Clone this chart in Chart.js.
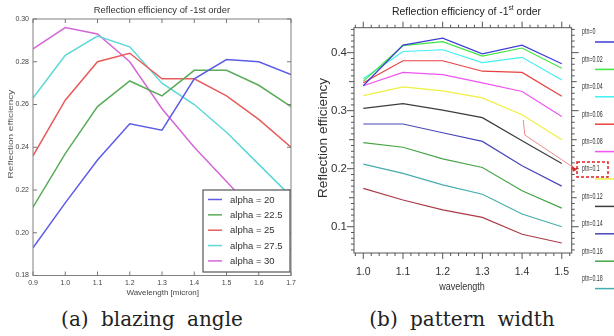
<!DOCTYPE html>
<html><head><meta charset="utf-8">
<script src="https://cdn.jsdelivr.net/npm/chart.js@4.4.0/dist/chart.umd.min.js"></script>
<style>
html,body{margin:0;padding:0;background:#fff;width:614px;height:336px;overflow:hidden;position:relative}
#ca{position:absolute;left:0;top:0}
#cb{position:absolute;left:300px;top:0}
.cap{position:absolute;font-family:'DejaVu Serif',serif;font-size:20px;line-height:20px;color:#222;word-spacing:6px;white-space:nowrap;text-align:center;width:260px}
</style></head><body>
<canvas id="ca" width="300" height="300"></canvas>
<canvas id="cb" width="314" height="300"></canvas>
<div class="cap" style="left:22px;top:309px">(a) blazing angle</div>
<div class="cap" style="left:332px;top:309px">(b) pattern width</div>
<script>
// ---------- Chart (a) data ----------
const wavelengthA = [0.9, 1.0, 1.1, 1.2, 1.3, 1.4, 1.5, 1.6, 1.7];
const alpha20   = [0.193, 0.214, 0.234, 0.251, 0.248, 0.272, 0.281, 0.280, 0.274];
const alpha22_5 = [0.212, 0.237, 0.259, 0.271, 0.264, 0.276, 0.276, 0.269, 0.259];
const alpha25   = [0.236, 0.262, 0.280, 0.284, 0.272, 0.272, 0.264, 0.253, 0.240];
const alpha27_5 = [0.263, 0.283, 0.292, 0.287, 0.270, 0.260, 0.247, 0.232, 0.217];
const alpha30   = [0.286, 0.296, 0.293, 0.280, 0.258, 0.240, 0.224, 0.208, 0.192];
const alphaLabels = ['alpha = 20', 'alpha = 22.5', 'alpha = 25', 'alpha = 27.5', 'alpha = 30'];
const xTicksA = [0.9, 1.0, 1.1, 1.2, 1.3, 1.4, 1.5, 1.6, 1.7];
const yTicksA = [0.18, 0.20, 0.22, 0.24, 0.26, 0.28, 0.30];

// ---------- Chart (b) data ----------
const wavelengthB = [1.0, 1.1, 1.2, 1.3, 1.4, 1.5];
const ptn0    = [0.343, 0.413, 0.425, 0.398, 0.413, 0.381];
const ptn0_02 = [0.351, 0.412, 0.419, 0.394, 0.408, 0.373];
const ptn0_04 = [0.355, 0.402, 0.405, 0.383, 0.392, 0.353];
const ptn0_06 = [0.348, 0.386, 0.386, 0.368, 0.366, 0.325];
const ptn0_08 = [0.343, 0.366, 0.362, 0.348, 0.333, 0.290];
const ptn0_1  = [0.326, 0.341, 0.334, 0.322, 0.293, 0.250];
const ptn0_12 = [0.304, 0.312, 0.301, 0.288, 0.248, 0.209];
const ptn0_14 = [0.277, 0.277, 0.262, 0.247, 0.205, 0.170];
const ptn0_16 = [0.245, 0.237, 0.217, 0.202, 0.162, 0.132];
const ptn0_18 = [0.208, 0.192, 0.172, 0.156, 0.122, 0.100];
const ptn0_2  = [0.166, 0.146, 0.129, 0.116, 0.087, 0.072];
const ptnLabels = ['ptn=0', 'ptn=0.02', 'ptn=0.04', 'ptn=0.06', 'ptn=0.08', 'ptn=0.1', 'ptn=0.12', 'ptn=0.14', 'ptn=0.16', 'ptn=0.18', 'ptn=0.2'];
const xTicksB = [1.0, 1.1, 1.2, 1.3, 1.4, 1.5];
const yTicksB = [0.1, 0.2, 0.3, 0.4];
const highlightLabel = 'ptn=0.1';
const calloutPath = [[1.403, 0.284], [1.407, 0.258], [1.538, 0.198]];

const colorsA = ['#5c5ce8', '#5aac5a', '#e85c5c', '#5cd8d8', '#d466d8'];
const colorsB = ['#3c3cd4', '#40e640', '#40f0f0', '#e84040', '#f054f0', '#f0f040', '#3c3c3c', '#4848b8', '#48a448', '#48acac', '#aa3c48'];

const pts = (xs, ys) => xs.map((x, i) => ({x: x, y: ys[i]}));

function txt(ctx, s, x, y, o) {
  ctx.save();
  ctx.translate(x, y);
  if (o.rot) ctx.rotate(o.rot);
  ctx.scale(o.sx || 1, o.sy || 1);
  ctx.font = o.font;
  ctx.fillStyle = o.color || '#333';
  ctx.textAlign = o.align || 'center';
  ctx.textBaseline = o.baseline || 'middle';
  ctx.fillText(s, 0, 0);
  ctx.restore();
}
function seg(ctx, x1, y1, x2, y2) { ctx.beginPath(); ctx.moveTo(x1, y1); ctx.lineTo(x2, y2); ctx.stroke(); }

// ---------- Chart (a) ----------
const seriesA = [alpha20, alpha22_5, alpha25, alpha27_5, alpha30];
const decoA = {
  id: 'decoA',
  afterDraw(chart) {
    const ctx = chart.ctx, ca = chart.chartArea, xs = chart.scales.x, ys = chart.scales.y;
    ctx.save();
    ctx.strokeStyle = '#808080'; ctx.lineWidth = 1;
    ctx.strokeRect(ca.left, ca.top, ca.right - ca.left, ca.bottom - ca.top);
    ctx.strokeStyle = '#777';
    xTicksA.forEach(v => { const p = xs.getPixelForValue(v); seg(ctx, p, ca.bottom, p, ca.bottom - 4); seg(ctx, p, ca.top, p, ca.top + 4); });
    yTicksA.forEach(v => { const p = ys.getPixelForValue(v); seg(ctx, ca.left, p, ca.left + 4, p); seg(ctx, ca.right, p, ca.right - 4, p); });
    // titles
    txt(ctx, 'Reflection efficiency of -1st order', 162, 10, {font: '9.4px "Liberation Sans"', color: '#333'});
    txt(ctx, 'Wavelength [micron]', 162.7, 293, {font: '8px "Liberation Sans"', color: '#444'});
    txt(ctx, 'Reflection efficiency', 10.5, 134, {font: '10px "Liberation Sans"', color: '#555', rot: -Math.PI / 2, sy: 0.8});
    // legend
    const lx = 203, ly = 190, lw = 87, lh = 82;
    ctx.fillStyle = '#fff'; ctx.fillRect(lx, ly, lw, lh);
    ctx.strokeStyle = '#555'; ctx.lineWidth = 1.2; ctx.strokeRect(lx, ly, lw, lh);
    chart.data.datasets.forEach((d, i) => {
      const y = 199.5 + 15.35 * i;
      ctx.strokeStyle = d.borderColor; ctx.lineWidth = 1.5;
      seg(ctx, 208, y, 222, y);
      txt(ctx, d.label, 230, y + 0.5, {font: '9.5px "Liberation Sans"', color: '#333', align: 'left'});
    });
    ctx.restore();
  }
};
new Chart(document.getElementById('ca'), {
  type: 'line',
  data: {
    datasets: seriesA.map((s, i) => ({
      label: alphaLabels[i], data: pts(wavelengthA, s), borderColor: colorsA[i],
      borderWidth: 1.5, pointRadius: 0, tension: 0, fill: false
    }))
  },
  options: {
    responsive: false, animation: false,
    layout: {padding: {left: 0, top: 19, right: 9, bottom: 0}},
    plugins: {legend: {display: false}, tooltip: {enabled: false}, title: {display: false}},
    scales: {
      x: {
        type: 'linear', min: 0.9, max: 1.7,
        afterBuildTicks: s => { s.ticks = xTicksA.map(v => ({value: v})); },
        afterFit: s => { s.height = 24.5; },
        grid: {display: false, drawTicks: false}, border: {display: false},
        ticks: {autoSkip: false, maxRotation: 0, padding: 3, color: '#444', font: {family: 'Liberation Sans', size: 7}, callback: v => v.toFixed(1)}
      },
      y: {
        type: 'linear', min: 0.18, max: 0.30,
        afterBuildTicks: s => { s.ticks = yTicksA.map(v => ({value: v})); },
        afterFit: s => { s.width = 33; },
        grid: {display: false, drawTicks: false}, border: {display: false},
        ticks: {autoSkip: false, padding: 4, color: '#444', font: {family: 'Liberation Sans', size: 7}, callback: v => v.toFixed(2)}
      }
    }
  },
  plugins: [decoA]
});

// ---------- Chart (b) ----------
const seriesB = [ptn0, ptn0_02, ptn0_04, ptn0_06, ptn0_08, ptn0_1, ptn0_12, ptn0_14, ptn0_16, ptn0_18, ptn0_2];
const decoB = {
  id: 'decoB',
  afterDraw(chart) {
    const ctx = chart.ctx, ca = chart.chartArea, xs = chart.scales.x, ys = chart.scales.y;
    ctx.save();
    ctx.strokeStyle = '#555'; ctx.lineWidth = 1;
    ctx.strokeRect(ca.left, ca.top, ca.right - ca.left, ca.bottom - ca.top);
    for (let k = Math.ceil(ys.min * 100); k <= Math.floor(ys.max * 100); k++) {
      const p = ys.getPixelForValue(k / 100);
      const len = k % 10 === 0 ? 7 : (k % 5 === 0 ? 5 : 3);
      seg(ctx, ca.left, p, ca.left - len, p);
      seg(ctx, ca.right, p, ca.right + len, p);
    }
    for (let k = Math.ceil(xs.min * 50); k <= Math.floor(xs.max * 50); k++) {
      const p = xs.getPixelForValue(k / 50);
      const len = k % 5 === 0 ? 6 : 3;
      seg(ctx, p, ca.top, p, ca.top - len);
      seg(ctx, p, ca.bottom, p, ca.bottom + len);
    }
    // title with superscript
    const f1 = '11px "Liberation Sans"', f2 = '7px "Liberation Sans"', sx = 0.95;
    ctx.font = f1;
    const p1 = 'Reflection efficiency of -1', p3 = ' order';
    const w1 = ctx.measureText(p1).width, w3 = ctx.measureText(p3).width;
    ctx.font = f2; const w2 = ctx.measureText('st').width;
    let x0 = 166.5 - (w1 + w2 + w3) * sx / 2;
    txt(ctx, p1, x0, 12, {font: f1, color: '#222', align: 'left', sx: sx});
    txt(ctx, 'st', x0 + w1 * sx, 8, {font: f2, color: '#222', align: 'left', sx: sx});
    txt(ctx, p3, x0 + (w1 + w2) * sx, 12, {font: f1, color: '#222', align: 'left', sx: sx});
    txt(ctx, 'wavelength', 162, 287, {font: '10.5px "Liberation Sans"', color: '#333', sx: 0.86});
    txt(ctx, 'Reflection efficiency', 24, 138, {font: '13.5px "Liberation Sans"', color: '#333', rot: -Math.PI / 2, sy: 0.9});
    // callout line
    ctx.strokeStyle = '#f08a8a'; ctx.lineWidth = 1;
    ctx.beginPath();
    calloutPath.forEach((c, i) => {
      const px = xs.getPixelForValue(c[0]), py = ys.getPixelForValue(c[1]);
      if (i === 0) ctx.moveTo(px, py); else ctx.lineTo(px, py);
    });
    ctx.stroke();
    const last = calloutPath[calloutPath.length - 1];
    const ax = xs.getPixelForValue(last[0]), ay = ys.getPixelForValue(last[1]);
    ctx.fillStyle = '#e02020';
    ctx.beginPath(); ctx.moveTo(ax, ay); ctx.lineTo(ax - 5, ay - 4); ctx.lineTo(ax - 4, ay + 2); ctx.closePath(); ctx.fill();
    // legend
    chart.data.datasets.forEach((d, i) => {
      if (i > 9) return;
      const y = 32 + 27.4 * i;
      txt(ctx, d.label, 282, y, {font: '8.5px "Liberation Sans"', color: '#333', align: 'left', sx: 0.62});
      ctx.strokeStyle = d.borderColor; ctx.lineWidth = 1.5;
      seg(ctx, 295, y + 10, 314, y + 10);
      if (d.label === highlightLabel) {
        ctx.save();
        ctx.strokeStyle = '#e02020'; ctx.lineWidth = 1.5; ctx.setLineDash([3, 2]);
        ctx.strokeRect(277, y - 7, 31, 15);
        ctx.restore();
      }
    });
    ctx.restore();
  }
};
new Chart(document.getElementById('cb'), {
  type: 'line',
  data: {
    datasets: seriesB.map((s, i) => ({
      label: ptnLabels[i], data: pts(wavelengthB, s), borderColor: colorsB[i],
      borderWidth: 1.2, pointRadius: 0, tension: 0, fill: false
    }))
  },
  options: {
    responsive: false, animation: false,
    layout: {padding: {left: 0, top: 27.7, right: 42.3, bottom: 0}},
    plugins: {legend: {display: false}, tooltip: {enabled: false}, title: {display: false}},
    scales: {
      x: {
        type: 'linear', min: 0.9766, max: 1.525,
        afterBuildTicks: s => { s.ticks = xTicksB.map(v => ({value: v})); },
        afterFit: s => { s.height = 47; },
        grid: {display: false, drawTicks: false}, border: {display: false},
        ticks: {autoSkip: false, maxRotation: 0, padding: 13, color: '#333', font: {family: 'Liberation Sans', size: 10.5}, callback: v => v.toFixed(1)}
      },
      y: {
        type: 'linear', min: 0.0547, max: 0.443,
        afterBuildTicks: s => { s.ticks = yTicksB.map(v => ({value: v})); },
        afterFit: s => { s.width = 54; },
        grid: {display: false, drawTicks: false}, border: {display: false},
        ticks: {autoSkip: false, padding: 7, color: '#333', font: {family: 'Liberation Sans', size: 11.5}, callback: v => v.toFixed(1)}
      }
    }
  },
  plugins: [decoB]
});
</script>
</body></html>
